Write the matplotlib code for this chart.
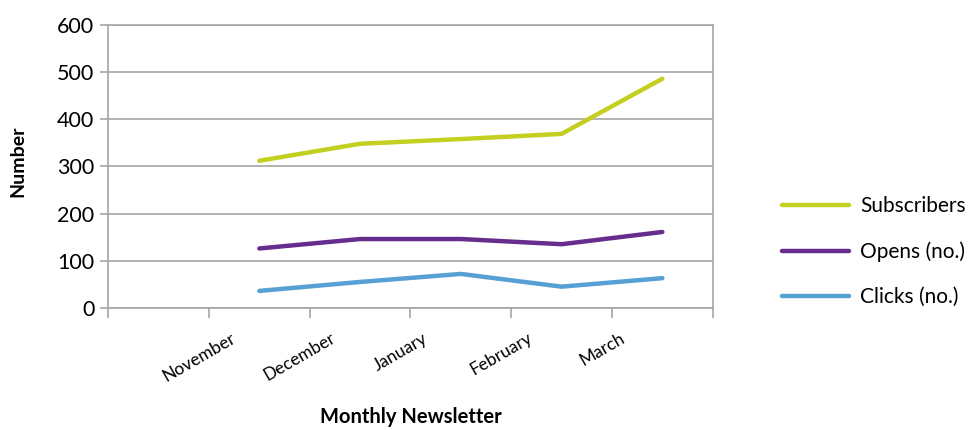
import numpy as np
import matplotlib
matplotlib.use("Agg")
import matplotlib.pyplot as plt

months = ["November", "December", "January", "February", "March"]
subscribers = [312, 348, 358, 369, 486]
opens = [126, 146, 146, 135, 161]
clicks = [36, 55, 72, 45, 63]

plt.rcParams["font.family"] = ["Lato", "DejaVu Sans"]

fig = plt.figure(figsize=(9.75, 4.3), dpi=100)
ax = fig.add_axes([0.111, 0.284, 0.62, 0.658])

grey = "#A6A6A6"
x = np.arange(1, len(months) + 1)
ax.plot(x, subscribers, color="#C3CF21", lw=3.2, label="Subscribers", solid_capstyle="round")
ax.plot(x, opens, color="#662D8C", lw=3.2, label="Opens (no.)", solid_capstyle="round")
ax.plot(x, clicks, color="#56A0D3", lw=3.2, label="Clicks (no.)", solid_capstyle="round")

ax.set_xlim(-0.5, len(months) + 0.5)
ax.set_ylim(0, 600)
ax.set_yticks(range(0, 601, 100))
ax.yaxis.grid(True, color=grey, lw=1.2)
ax.set_axisbelow(True)
for s in ax.spines.values():
    s.set_color(grey)
    s.set_linewidth(1.2)

# tick marks at category boundaries, labels offset like the original
ax.set_xticks(np.arange(-0.5, len(months) + 1, 1))
ax.set_xticklabels([])
ax.set_xticks(np.arange(len(months)) + 0.4, minor=True)
ax.set_xticklabels(months, minor=True, rotation=30, ha="center", fontsize=12.5)
ax.tick_params(axis="x", which="major", length=7, color=grey, width=1.2)
ax.tick_params(axis="x", which="minor", length=0, pad=16)
ax.tick_params(axis="y", length=6, color=grey, width=1.2, labelsize=15.5, pad=4)

ax.set_ylabel("Number", fontsize=14, fontweight="bold")
ax.yaxis.set_label_coords(-0.135, 0.52)
ax.set_xlabel("Monthly Newsletter", fontsize=14.5, fontweight="bold")
ax.xaxis.set_label_coords(0.5, -0.352)

fig.legend(loc="center left", bbox_to_anchor=(0.783, 0.415), frameon=False,
           fontsize=15, handlelength=3.2, labelspacing=1.22, handletextpad=0.55)

fig.savefig("out.png", dpi=100)
